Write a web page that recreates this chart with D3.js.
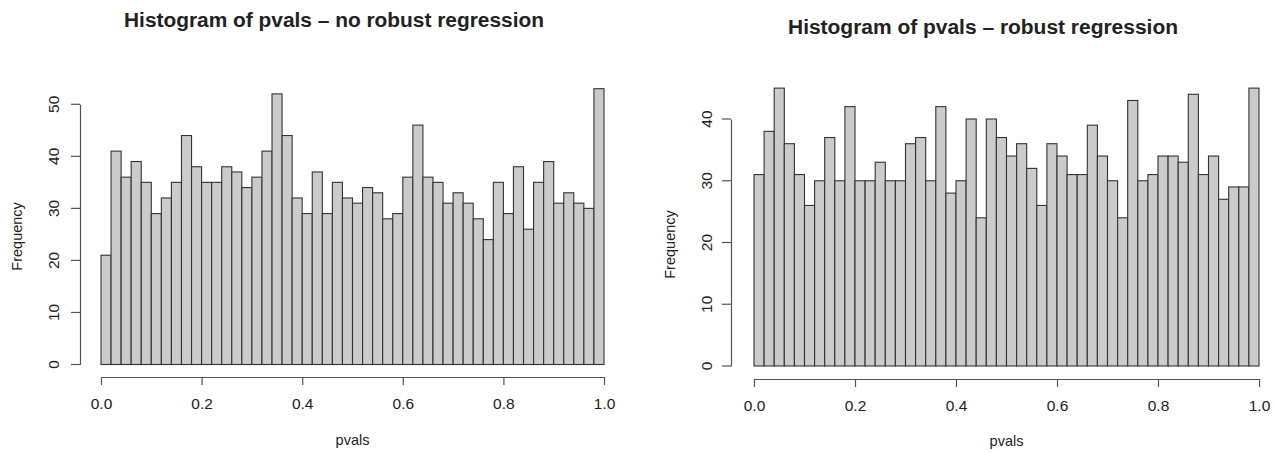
<!DOCTYPE html>
<html>
<head>
<meta charset="utf-8">
<script src="https://cdn.jsdelivr.net/npm/d3@7"></script>
<style>
  body { margin: 0; background: #fff; }
  svg text { font-family: 'Liberation Sans', Arial, sans-serif; fill: #222; }
  .title { font-weight: bold; }
  .bar { fill: #cbcbcb; stroke: #333; stroke-width: 1.1; }
  .axis path, .axis line { stroke: #555; stroke-width: 1.2; }
</style>
</head>
<body>
<svg></svg>
<script>
let svgWidth = 1275
let svgHeight = 453

// 50 bins of width 0.02 over [0, 1]
let binCount = 50
let xTicks = [0, 0.2, 0.4, 0.6, 0.8, 1.0]

let countsNoRobust = [21, 41, 36, 39, 35, 29, 32, 35, 44, 38, 35, 35, 38, 37, 34, 36, 41, 52, 44, 32,
  29, 37, 29, 35, 32, 31, 34, 33, 28, 29, 36, 46, 36, 35, 31, 33, 31, 28, 24, 35,
  29, 38, 26, 35, 39, 31, 33, 31, 30, 53]
let yTicksNoRobust = [0, 10, 20, 30, 40, 50]

let countsRobust = [31, 38, 45, 36, 31, 26, 30, 37, 30, 42, 30, 30, 33, 30, 30, 36, 37, 30, 42, 28,
  30, 40, 24, 40, 37, 34, 36, 32, 26, 36, 34, 31, 31, 39, 34, 30, 24, 43, 30, 31,
  34, 34, 33, 44, 31, 34, 27, 29, 29, 45]
let yTicksRobust = [0, 10, 20, 30, 40]

let titleNoRobust = 'Histogram of pvals \u2013 no robust regression'
let titleRobust = 'Histogram of pvals \u2013 robust regression'

let svg = d3.select('svg').attr('width', svgWidth).attr('height', svgHeight)

function drawHist(svg, counts, yTicks, title, p) {
  let xScale = d3.scaleLinear().domain([0, 1]).range([p.x0, p.x1])
  let yScale = d3.scaleLinear().domain([0, d3.max(yTicks)]).range([p.y0, p.yTop])

  let bins = counts.map(function(c, i) {
    return { x0: i / binCount, x1: (i + 1) / binCount, n: c }
  })

  svg.append('g').selectAll('rect')
    .data(bins)
    .enter()
    .append('rect')
    .attr('class', 'bar')
    .attr('x', d => xScale(d.x0))
    .attr('width', d => xScale(d.x1) - xScale(d.x0))
    .attr('y', d => yScale(d.n))
    .attr('height', d => yScale(0) - yScale(d.n))

  // x axis, R style: detached below the bars
  let xAxis = d3.axisBottom(xScale).tickValues(xTicks).tickFormat(d3.format('.1f'))
    .tickSizeOuter(0).tickSizeInner(8).tickPadding(13)
  let gx = svg.append('g').attr('class', 'axis')
    .attr('transform', 'translate(0,' + p.xAxisY + ')')
    .call(xAxis)
  gx.attr('font-family', null)
  gx.selectAll('text').style('font-size', '15.5px').attr('fill', '#222')

  let yAxis = d3.axisLeft(yScale).tickValues(yTicks).tickSizeOuter(0).tickSizeInner(9).tickFormat(d3.format('d'))
  let gy = svg.append('g').attr('class', 'axis')
    .attr('transform', 'translate(' + p.yAxisX + ',0)')
    .call(yAxis)
  gy.attr('font-family', null)
  gy.selectAll('text')
    .style('font-size', '15.5px')
    .attr('fill', '#222')
    .attr('x', null).attr('dy', null)
    .attr('text-anchor', 'middle')
    .attr('dominant-baseline', 'central')
    .attr('transform', d => 'translate(' + (p.yLabelX - p.yAxisX) + ',' + yScale(d) + ') rotate(-90)')
    .attr('y', 0)
  gy.selectAll('.tick').attr('transform', 'translate(0,0)')
  gy.selectAll('.tick line').attr('y1', d => yScale(d)).attr('y2', d => yScale(d))

  svg.append('text').attr('class', 'title')
    .attr('x', p.titleX).attr('y', p.titleY)
    .attr('text-anchor', 'middle')
    .style('font-size', '20px')
    .attr('textLength', p.titleW).attr('lengthAdjust', 'spacingAndGlyphs')
    .text(title)

  svg.append('text')
    .attr('x', (p.x0 + p.x1) / 2).attr('y', p.xTitleY)
    .attr('text-anchor', 'middle')
    .style('font-size', '14.5px')
    .text('pvals')

  svg.append('text')
    .attr('transform', 'translate(' + p.yTitleX + ',' + ((p.y0 + yScale(d3.max(yTicks))) / 2 + 2) + ') rotate(-90)')
    .attr('text-anchor', 'middle')
    .attr('dominant-baseline', 'central')
    .style('font-size', '14.5px')
    .text('Frequency')
}

drawHist(svg, countsNoRobust, yTicksNoRobust, titleNoRobust, {
  x0: 101, x1: 604, y0: 364.5, yTop: 104.3,
  xAxisY: 377, yAxisX: 80, yLabelX: 53, yTitleX: 17,
  titleX: 334, titleY: 27, titleW: 420, xTitleY: 445
})

drawHist(svg, countsRobust, yTicksRobust, titleRobust, {
  x0: 754, x1: 1259, y0: 366, yTop: 119,
  xAxisY: 379, yAxisX: 731, yLabelX: 706, yTitleX: 670,
  titleX: 983, titleY: 34, titleW: 390, xTitleY: 446
})
</script>
</body>
</html>
